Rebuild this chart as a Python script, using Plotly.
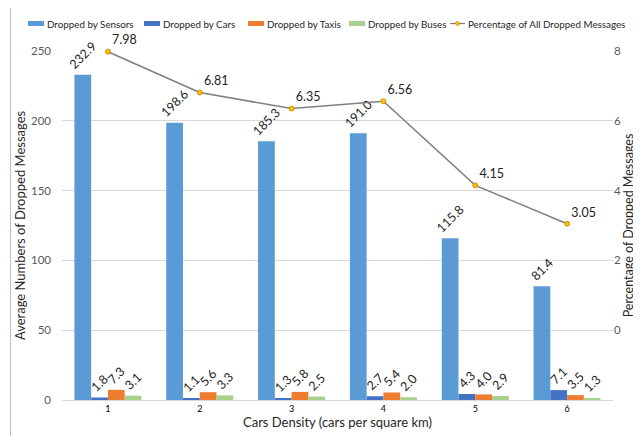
import plotly.graph_objects as go

categories = ["1", "2", "3", "4", "5", "6"]
sensors = [232.9, 198.6, 185.3, 191.0, 115.8, 81.4]
cars = [1.8, 1.1, 1.3, 2.7, 4.3, 7.1]
taxis = [7.3, 5.6, 5.8, 5.4, 4.0, 3.5]
buses = [3.1, 3.3, 2.5, 2.0, 2.9, 1.3]
percentage = [7.98, 6.81, 6.35, 6.56, 4.15, 3.05]

bar_names = ["Dropped by Sensors", "Dropped by Cars", "Dropped by Taxis", "Dropped by Buses"]
line_name = "Percentage of All Dropped Messages"
bar_colors = ["#5B9BD5", "#4472C4", "#ED7D31", "#A9D18E"]
LINE_COLOR = "#7F7F7F"
MARK_COLOR = "#FFC000"

FONT = "Lato"
W, H = 641, 436
ML, MR, MT, MB = 54, 36, 43, 44
PW, PH = W - ML - MR, H - MT - MB


def px(x):
    return (x - ML) / PW


def py(y):
    return (H - MB - y) / PH


fig = go.Figure()

for name, vals, color in zip(bar_names, [sensors, cars, taxis, buses], bar_colors):
    fig.add_trace(go.Bar(
        x=categories, y=vals, name=name, marker_color=color, marker_line_width=0,
        text=[f"{v:.1f}" for v in vals], textposition="outside", textangle=-45,
        constraintext="none", cliponaxis=False,
        textfont=dict(family=FONT, size=12.5, color="#222"),
    ))

fig.add_trace(go.Scatter(
    x=categories, y=percentage, name=line_name,
    yaxis="y2", mode="lines+markers+text",
    line=dict(color=LINE_COLOR, width=1.5),
    marker=dict(color=MARK_COLOR, size=5, line=dict(color="#B8860B", width=0.8)),
    text=[f"{v:.2f}" for v in percentage], textposition="top right",
    textfont=dict(family=FONT, size=12.5, color="#222"), cliponaxis=False,
))

# Legend drawn in the top margin, one row, as in the reference
shapes = []
annotations = []
swatch_x = [20, 136, 240, 341]
LY = 15.5
LEG_SIZE = 9.8
for sx, name, color in zip(swatch_x, bar_names, bar_colors):
    shapes.append(dict(type="rect", xref="paper", yref="paper",
                       x0=px(sx), x1=px(sx + 16), y0=py(LY + 2.5), y1=py(LY - 2.5),
                       fillcolor=color, line=dict(width=0)))
    annotations.append(dict(text=name, xref="paper", yref="paper", x=px(sx + 17), y=py(LY),
                            xanchor="left", yanchor="middle", showarrow=False,
                            font=dict(family=FONT, size=LEG_SIZE, color="#262626")))
shapes.append(dict(type="line", xref="paper", yref="paper",
                   x0=px(442), x1=px(457), y0=py(LY), y1=py(LY),
                   line=dict(color=LINE_COLOR, width=1.2)))
shapes.append(dict(type="circle", xref="paper", yref="paper",
                   x0=px(447.5), x1=px(451.5), y0=py(LY + 2), y1=py(LY - 2),
                   fillcolor=MARK_COLOR, line=dict(color="#B8860B", width=0.6)))
annotations.append(dict(text=line_name, xref="paper", yref="paper", x=px(458), y=py(LY),
                        xanchor="left", yanchor="middle", showarrow=False,
                        font=dict(family=FONT, size=LEG_SIZE, color="#262626")))

# chart frame (left and bottom edges visible in the reference)
shapes.append(dict(type="line", xref="paper", yref="paper",
                   x0=px(2.5), x1=px(2.5), y0=py(0), y1=py(432.5),
                   line=dict(color="#BFBFBF", width=1)))
shapes.append(dict(type="line", xref="paper", yref="paper",
                   x0=px(2.5), x1=px(641), y0=py(432.5), y1=py(432.5),
                   line=dict(color="#BFBFBF", width=1)))

fig.update_layout(
    width=W, height=H,
    margin=dict(l=ML, r=MR, t=MT, b=MB, autoexpand=False),
    paper_bgcolor="white", plot_bgcolor="white",
    font=dict(family=FONT, size=11, color="#404040"),
    barmode="group", bargap=0.27, bargroupgap=0,
    showlegend=False,
    xaxis=dict(showgrid=False, showline=True, linecolor="#D9D9D9", linewidth=1,
               ticks="", tickfont=dict(family=FONT, size=9, color="#000"),
               title=dict(text="Cars Density (cars per square km)",
                          font=dict(family=FONT, size=13, color="#262626"), standoff=2)),
    yaxis=dict(range=[0, 250], dtick=50, showgrid=True, gridcolor="#D9D9D9",
               zeroline=False, showline=False, ticks="", ticklabelstandoff=10,
               tickfont=dict(family=FONT, size=11.5, color="#595959"),
               title=dict(text="Average Numbers of Dropped Messages",
                          font=dict(family=FONT, size=13, color="#262626"), standoff=2)),
    yaxis2=dict(overlaying="y", side="right", range=[-2, 8],
                tickvals=[0, 2, 4, 6, 8], showgrid=False, zeroline=False, ticks="",
                tickfont=dict(family=FONT, size=11.5, color="#595959"),
                title=dict(text="Percentage of Dropped Messages",
                           font=dict(family=FONT, size=12.5, color="#262626"), standoff=2)),
    shapes=shapes,
    annotations=annotations,
)

fig.write_html("out.html")
